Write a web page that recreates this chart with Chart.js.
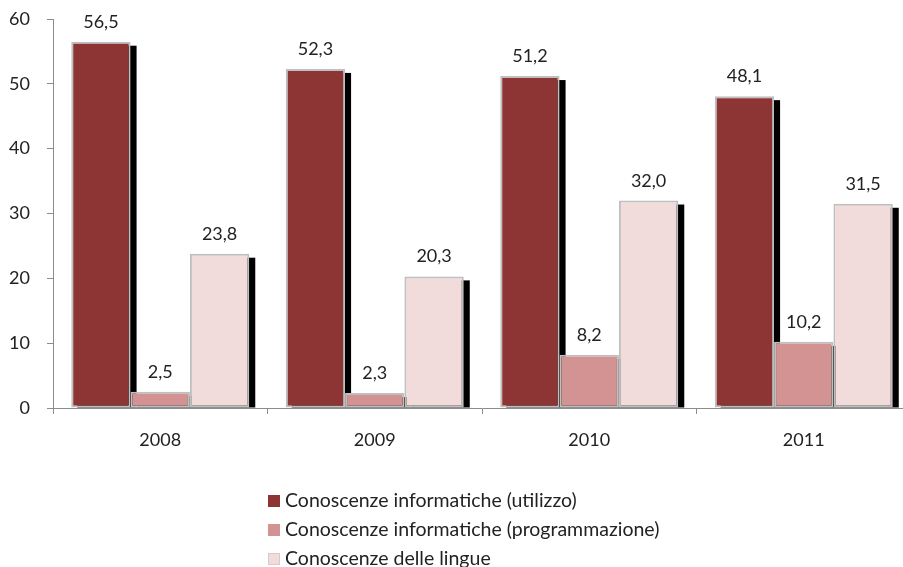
<!DOCTYPE html>
<html>
<head>
<meta charset="utf-8">
<script src="https://cdn.jsdelivr.net/npm/chart.js@4"></script>
<style>
  html, body { margin: 0; padding: 0; background: #fff; overflow: hidden; }
  .wrap { width: 903px; height: 567px; overflow: hidden; }
</style>
</head>
<body>
<div class="wrap">
  <canvas id="chart" width="911" height="567"></canvas>
</div>
<script>
// Data
const years = ['2008', '2009', '2010', '2011'];
const utilizzo = [56.5, 52.3, 51.2, 48.1];
const programmazione = [2.5, 2.3, 8.2, 10.2];
const lingue = [23.8, 20.3, 32.0, 31.5];
const seriesNames = [
  'Conoscenze informatiche (utilizzo)',
  'Conoscenze informatiche (programmazione)',
  'Conoscenze delle lingue'
];
const seriesColors = ['#8c3534', '#d49393', '#f2dcdb'];
const yMin = 0;
const yMax = 60;
const yStep = 10;

const FONT = 'Lato, "Open Sans", sans-serif';
const TEXT = '#222222';
const AXIS = '#8c8c8c';

// Black drop shadow behind every bar
const barShadow = {
  id: 'barShadow',
  beforeDatasetsDraw(chart) {
    const ctx = chart.ctx;
    const area = chart.chartArea;
    ctx.save();
    ctx.beginPath();
    ctx.rect(area.left, area.top - 20, area.right - area.left + 20, area.bottom - area.top + 20);
    ctx.clip();
    ctx.fillStyle = '#000';
    chart.data.datasets.forEach((ds, i) => {
      chart.getDatasetMeta(i).data.forEach(bar => {
        const p = bar.getProps(['x', 'y', 'base', 'width'], true);
        ctx.fillRect(p.x - p.width / 2 + 6, p.y + 4, p.width, p.base - p.y - 4);
      });
    });
    ctx.restore();
  }
};

// Values above bars, with comma decimals
const valueLabels = {
  id: 'valueLabels',
  afterDatasetsDraw(chart) {
    const ctx = chart.ctx;
    ctx.save();
    ctx.font = '18px ' + FONT;
    ctx.fillStyle = TEXT;
    ctx.textAlign = 'center';
    ctx.textBaseline = 'alphabetic';
    chart.data.datasets.forEach((ds, i) => {
      chart.getDatasetMeta(i).data.forEach((bar, j) => {
        const txt = ds.data[j].toFixed(1).replace('.', ',');
        ctx.fillText(txt, bar.x, bar.y - 14);
      });
    });
    ctx.restore();
  }
};

// Vertical legend under the chart
const stackedLegend = {
  id: 'stackedLegend',
  afterDraw(chart) {
    const ctx = chart.ctx;
    ctx.save();
    ctx.font = '19.5px ' + FONT;
    ctx.textBaseline = 'middle';
    ctx.textAlign = 'left';
    chart.data.datasets.forEach((ds, i) => {
      const cy = 501 + i * 29;
      ctx.fillStyle = ds.backgroundColor;
      ctx.fillRect(268, cy - 6, 12, 12);
      if (i === 2) {
        ctx.strokeStyle = '#dcc8c8';
        ctx.lineWidth = 1;
        ctx.strokeRect(268.5, cy - 5.5, 11, 11);
      }
      ctx.fillStyle = TEXT;
      ctx.fillText(ds.label, 285, cy);
    });
    ctx.restore();
  }
};

const datasets = [utilizzo, programmazione, lingue].map((vals, i) => ({
  label: seriesNames[i],
  data: vals,
  backgroundColor: seriesColors[i],
  borderColor: '#bfbfbf',
  borderWidth: 2,
  borderSkipped: false
}));

new Chart(document.getElementById('chart'), {
  type: 'bar',
  data: { labels: years, datasets: datasets },
  options: {
    responsive: false,
    animation: false,
    categoryPercentage: 0.83,
    barPercentage: 1,
    layout: { padding: { top: 19, right: 0, bottom: 109, left: 0 } },
    plugins: {
      legend: { display: false },
      tooltip: { enabled: false }
    },
    scales: {
      x: {
        afterFit(scale) { scale.height = 50; },
        grid: { offset: true, drawOnChartArea: false, tickLength: 6, color: AXIS },
        border: { color: AXIS },
        ticks: { font: { family: FONT, size: 18 }, color: TEXT, padding: 15 }
      },
      y: {
        min: yMin,
        max: yMax,
        afterFit(scale) {
          scale.width = 53;
          scale.paddingTop = 10;
          scale.paddingBottom = 10;
        },
        grid: { drawOnChartArea: false, tickLength: 6, color: AXIS },
        border: { color: AXIS },
        ticks: { stepSize: yStep, font: { family: FONT, size: 18 }, color: TEXT, padding: 17 }
      }
    }
  },
  plugins: [barShadow, valueLabels, stackedLegend]
});
</script>
</body>
</html>
